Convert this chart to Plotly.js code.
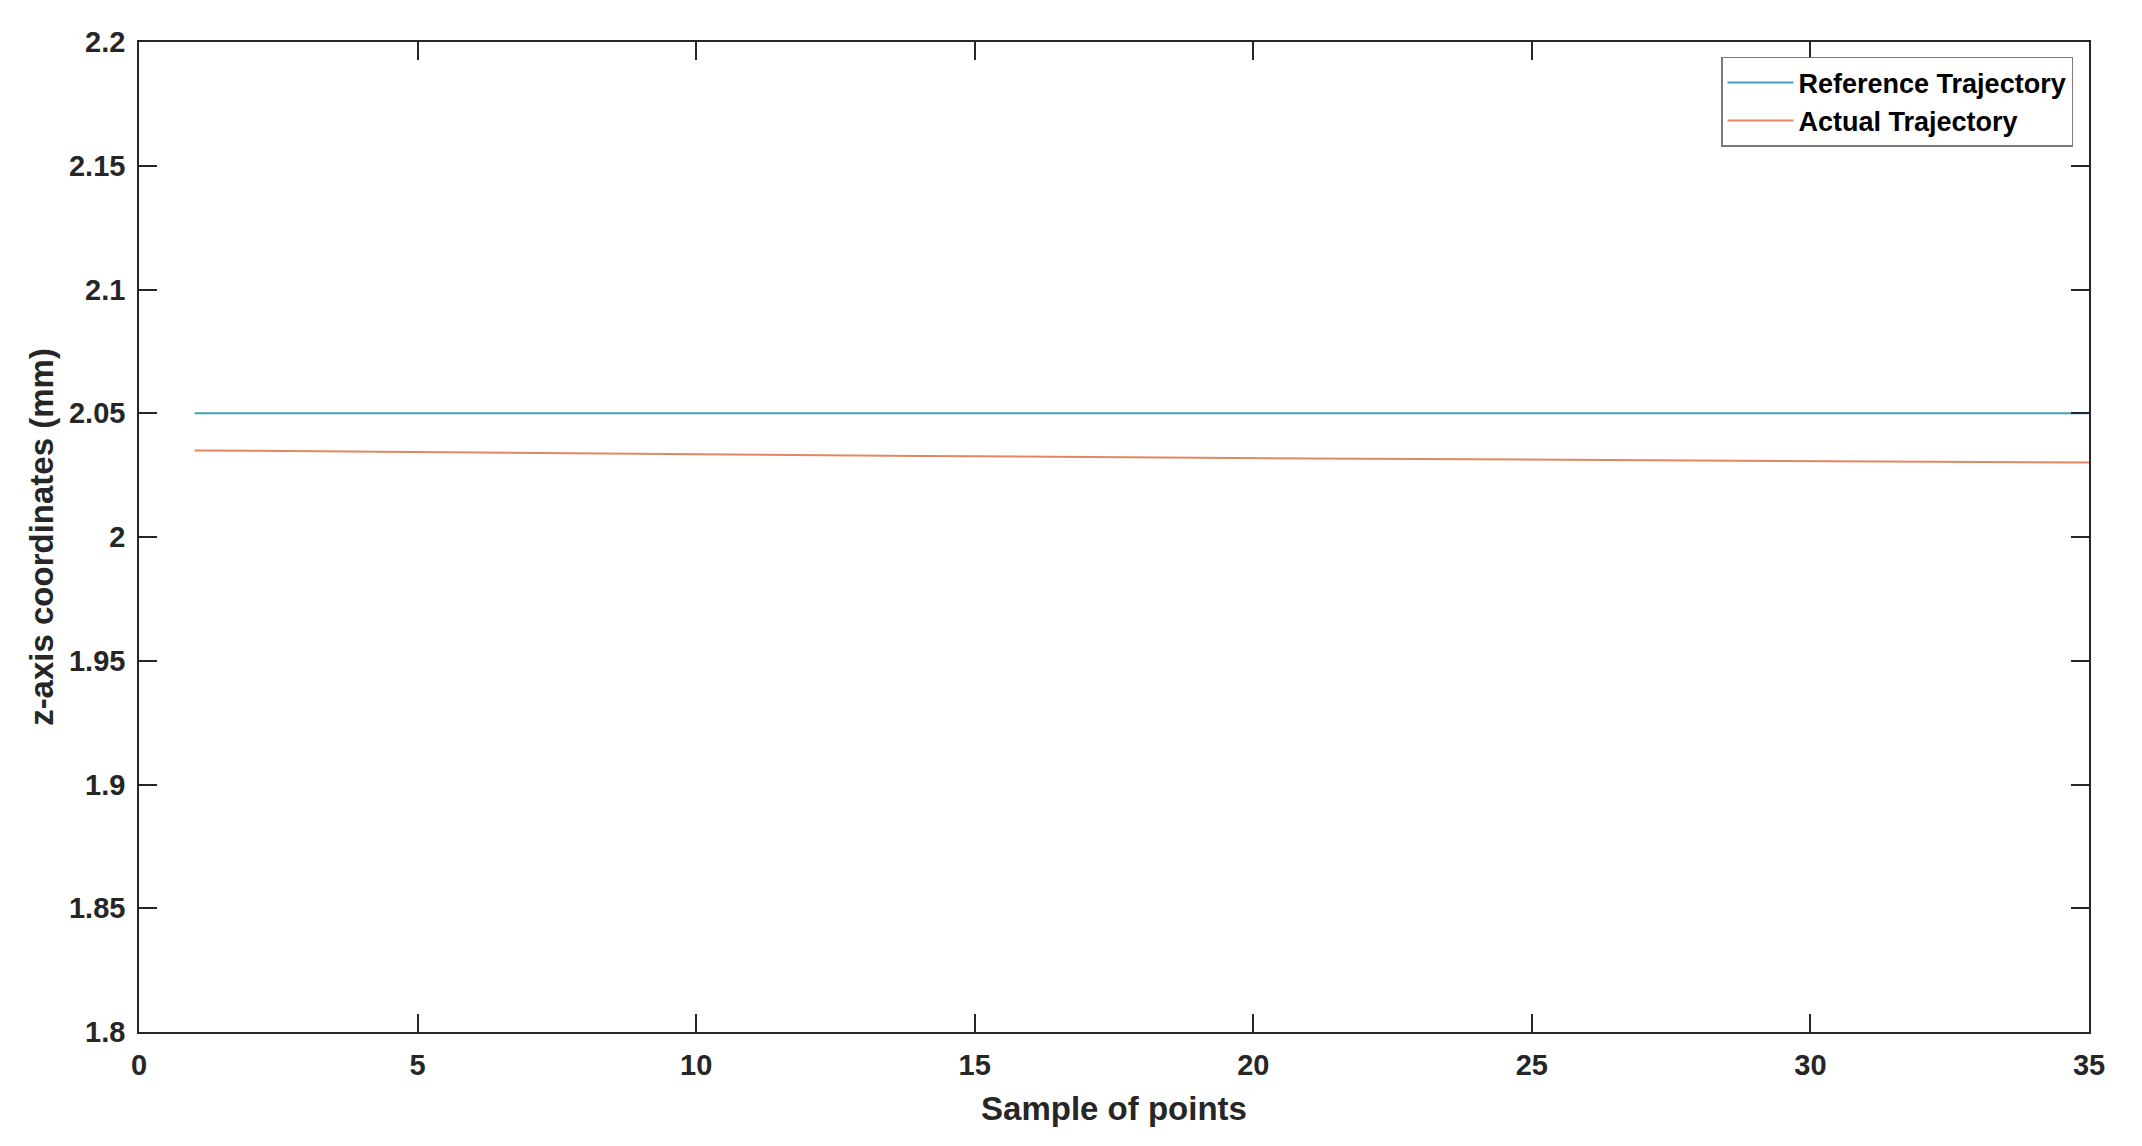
<!DOCTYPE html>
<html>
<head>
<meta charset="utf-8">
<script src="https://cdn.plot.ly/plotly-3.0.1.min.js"></script>
<style>
  html, body { margin: 0; padding: 0; background: #fff; }
  #chart { width: 2142px; height: 1146px; }
</style>
</head>
<body>
<div id="chart"></div>
<script>
// sample index 1..35
var samples = [1, 2, 3, 4, 5, 6, 7, 8, 9, 10, 11, 12, 13, 14, 15, 16, 17, 18,
    19, 20, 21, 22, 23, 24, 25, 26, 27, 28, 29, 30, 31, 32, 33, 34, 35];

var referenceZ = [2.05, 2.05, 2.05, 2.05, 2.05, 2.05, 2.05, 2.05, 2.05, 2.05,
    2.05, 2.05, 2.05, 2.05, 2.05, 2.05, 2.05, 2.05, 2.05, 2.05, 2.05, 2.05,
    2.05, 2.05, 2.05, 2.05, 2.05, 2.05, 2.05, 2.05, 2.05, 2.05, 2.05, 2.05, 2.05];

var actualZ = [2.0350, 2.0348, 2.0347, 2.0346, 2.0344, 2.0343, 2.0340, 2.0338,
    2.0336, 2.0334, 2.0332, 2.0330, 2.0328, 2.0327, 2.0326, 2.0324, 2.0322,
    2.0320, 2.0318, 2.0318, 2.0317, 2.0316, 2.0315, 2.0313, 2.0312, 2.0311,
    2.0310, 2.0309, 2.0307, 2.0306, 2.0305, 2.0304, 2.0303, 2.0302, 2.0301];

var fontFam = '"Liberation Sans", Arial, Helvetica, sans-serif';

var data = [{
    x: samples,
    y: referenceZ,
    name: 'Reference Trajectory',
    type: 'scatter',
    mode: 'lines',
    line: { color: 'rgb(66,160,186)', width: 2 }
}, {
    x: samples,
    y: actualZ,
    name: 'Actual Trajectory',
    type: 'scatter',
    mode: 'lines',
    line: { color: 'rgb(226,136,96)', width: 2 }
}];

var axisCommon = {
    showgrid: false,
    zeroline: false,
    showline: true,
    linecolor: '#262626',
    linewidth: 1.5,
    mirror: 'ticks',
    ticks: 'inside',
    ticklen: 18,
    tickwidth: 1.5,
    tickcolor: '#262626',
    tickfont: { family: fontFam, size: 29, color: '#262626', weight: 'bold' }
};

var layout = {
    width: 2142,
    height: 1146,
    margin: { l: 139, r: 53, t: 42, b: 114 },
    paper_bgcolor: '#fff',
    plot_bgcolor: '#fff',
    showlegend: true,
    legend: {
        x: 0.9918, xanchor: 'right',
        y: 0.985, yanchor: 'top',
        bgcolor: '#fff',
        bordercolor: '#7a7a7a',
        borderwidth: 1.5,
        itemwidth: 66,
        tracegroupgap: 0,
        font: { family: fontFam, size: 27, color: '#000', weight: 'bold' }
    },
    xaxis: Object.assign({}, axisCommon, {
        range: [0, 35],
        dtick: 5,
        ticklabelstandoff: 6,
        title: {
            text: 'Sample of points',
            standoff: 17,
            font: { family: fontFam, size: 33, color: '#262626', weight: 'bold' }
        }
    }),
    yaxis: Object.assign({}, axisCommon, {
        range: [1.8, 2.2],
        dtick: 0.05,
        ticklabelstandoff: 6,
        title: {
            text: 'z-axis coordinates (mm)',
            standoff: 5,
            font: { family: fontFam, size: 33, color: '#262626', weight: 'bold' }
        }
    })
};

var config = {
    responsive: false,
    displayModeBar: false
};

Plotly.newPlot('chart', data, layout, config);
</script>
</body>
</html>
